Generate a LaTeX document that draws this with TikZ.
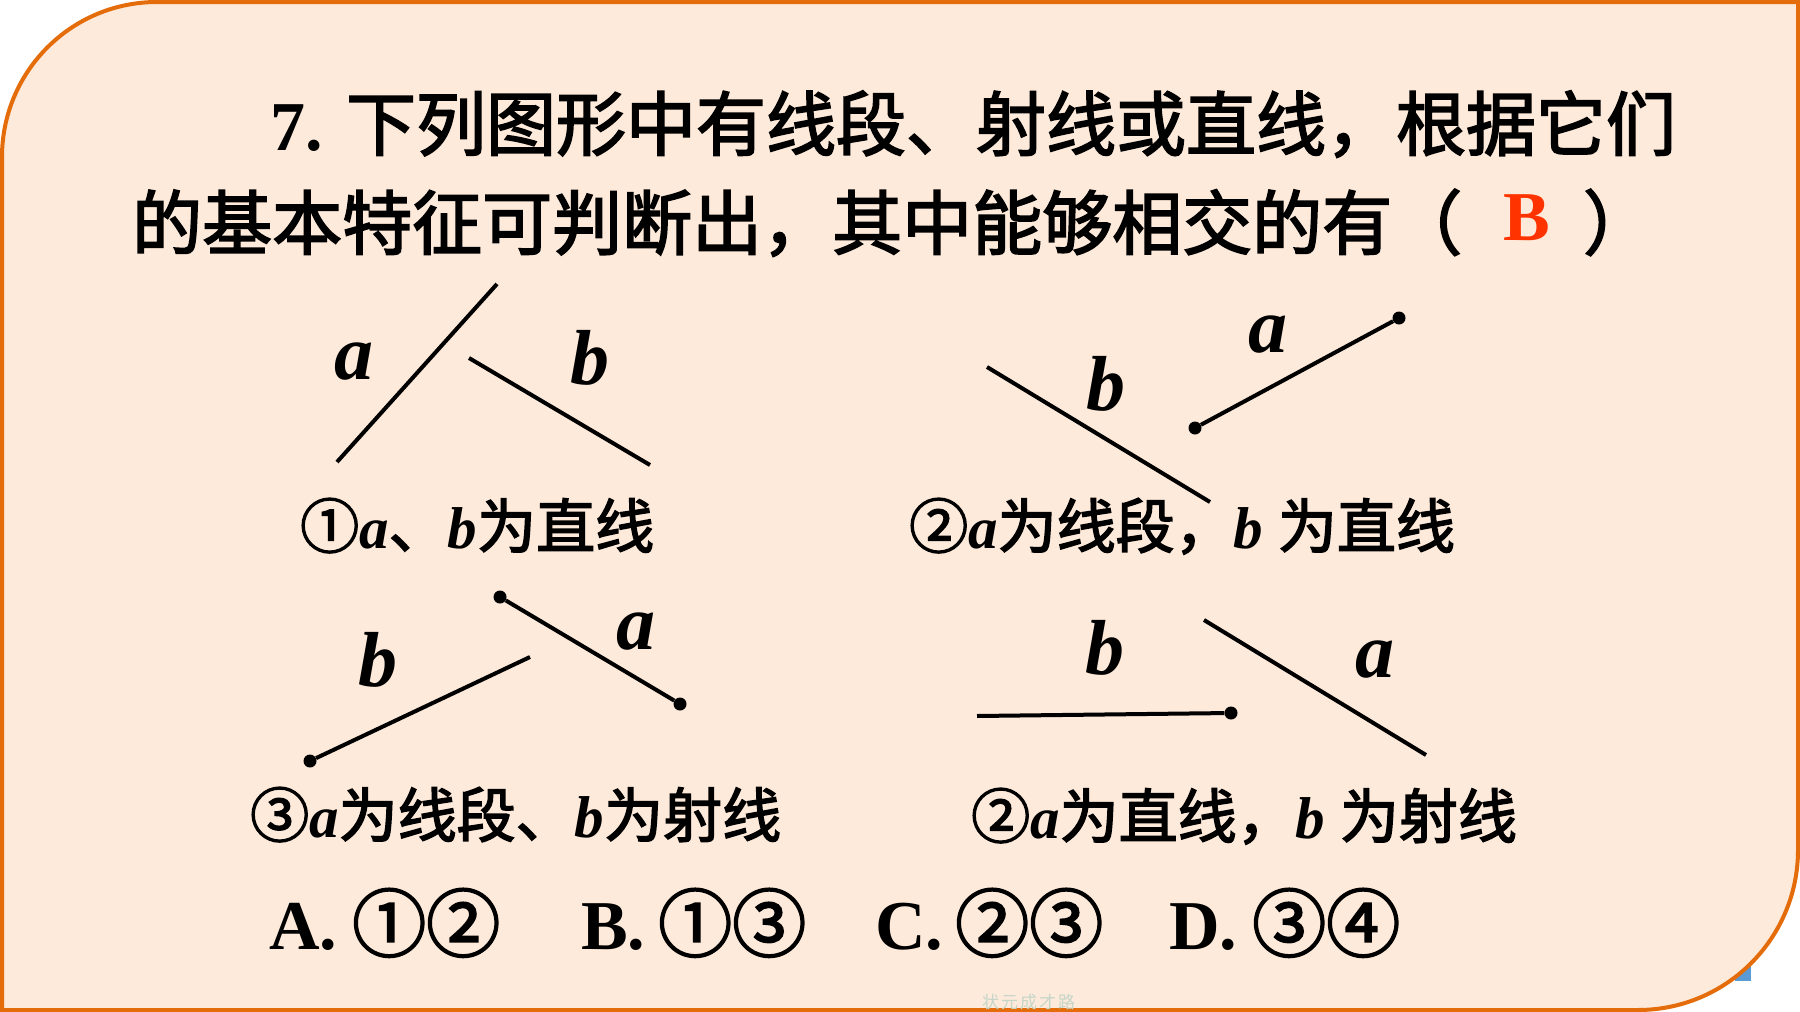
\documentclass[tikz,border=0pt]{standalone}
\usepackage{fontspec}
\setmainfont{Liberation Serif}
\newfontfamily\cjk{Noto Sans CJK SC}[BoldFont=Noto Sans CJK SC, BoldFeatures={FakeBold=2.5}]
\usetikzlibrary{positioning}
\definecolor{slidefill}{HTML}{FDEADA}
\definecolor{slideedge}{HTML}{E46C0A}
\definecolor{keyred}{HTML}{FF3300}
\definecolor{markblue}{HTML}{5B9BD5}
\definecolor{wmark}{HTML}{C5D6C8}

\begin{document}
\begin{tikzpicture}[
  x=1pt, y=-1pt,
  seg/.style={
    line width=4pt,
    black
  },
  endpt/.style={
    circle,
    fill=black,
    inner sep=0pt,
    minimum size=13pt
  },
  lbl/.style={
    inner sep=0pt,
    font=\fontsize{78}{90}\selectfont\bfseries\itshape
  },
  ttl/.style={
    anchor=base west,
    inner sep=0pt,
    font=\fontsize{70}{84}\selectfont\bfseries
  },
  capline/.style={
    anchor=base west,
    inner sep=0pt,
    font=\fontsize{59}{70}\selectfont\bfseries
  },
  circnum/.style={
    anchor=base west,
    inner sep=0pt,
    font=\fontsize{74}{84}\selectfont\bfseries
  }
]
\fill[white] (0,0) rectangle (1800,1012);
\useasboundingbox (0,0) rectangle (1800,1012);

% --- SLIDE FRAME ---
\fill[markblue] (1735,966) rectangle (1751,981);
\filldraw[fill=slidefill, draw=slideedge, line width=4pt]
  (2,1010) -- (2,157) arc[start angle=180, end angle=270, radius=155]
  -- (1798,2) -- (1798,850) arc[start angle=0, end angle=90, radius=160] -- cycle;
\node[anchor=base west, inner sep=0pt, text=wmark, font=\fontsize{17}{20}\selectfont] (wm) at (982,1008)
  {\cjk 状\hspace{2pt}元\hspace{2pt}成\hspace{2pt}才\hspace{2pt}路};

% --- QUESTION ---
\node[ttl] (q1) at (270,150) {7. {\cjk 下列图形中有线段、射线或直线，根据它们}};
\node[ttl] (q2) at (132,249) {\cjk 的基本特征可判断出，其中能够相交的有（};
\node[ttl, anchor=base, text=keyred] (key) at (1527,240) {B};
\node[ttl] (rp) at (1583,249) {\cjk ）};

% --- FIGURE 1 (top left) ---
\coordinate (a1s) at (497,284);
\coordinate (a1e) at (337,462);
\coordinate (b1s) at (469,358);
\coordinate (b1e) at (650,465);
\draw[seg] (a1s) -- (a1e);
\draw[seg] (b1s) -- (b1e);
\node[lbl] (la1) at (354,362) {a};
\node[lbl] (lb1) at (590,358) {b};
\node[capline] (cap1) at (300,548) {{\cjk ①}\textit{a}{\cjk 、}\textit{b}{\cjk 为直线}};

% --- FIGURE 2 (top right) ---
\coordinate (b2s) at (987,367);
\coordinate (b2e) at (1210,502);
\node[endpt] (a2s) at (1195,428) {};
\node[endpt] (a2e) at (1399,318) {};
\draw[seg] (b2s) -- (b2e);
\draw[seg] (a2s) -- (a2e);
\node[lbl] (lb2) at (1106,384) {b};
\node[lbl] (la2) at (1268,335) {a};
\node[capline] (cap2) at (909,548) {{\cjk ②}\textit{a}{\cjk 为线段，}\textit{b} {\cjk 为直线}};

% --- FIGURE 3 (bottom left) ---
\node[endpt] (a3s) at (500,597) {};
\node[endpt] (a3e) at (680,704) {};
\coordinate (b3s) at (530,657);
\node[endpt] (b3e) at (310,761) {};
\draw[seg] (a3s) -- (a3e);
\draw[seg] (b3s) -- (b3e);
\node[lbl] (lb3) at (378,660) {b};
\node[lbl] (la3) at (636,632) {a};
\node[capline] (cap3) at (250,837) {{\cjk ③}\textit{a}{\cjk 为线段、}\textit{b}{\cjk 为射线}};

% --- FIGURE 4 (bottom right) ---
\coordinate (b4s) at (977,716);
\node[endpt] (b4e) at (1231,713) {};
\coordinate (a4s) at (1204,620);
\coordinate (a4e) at (1426,755);
\draw[seg] (b4s) -- (b4e);
\draw[seg] (a4s) -- (a4e);
\node[lbl] (lb4) at (1105,648) {b};
\node[lbl] (la4) at (1375,660) {a};
\node[capline] (cap4) at (971,838) {{\cjk ②}\textit{a}{\cjk 为直线，}\textit{b} {\cjk 为射线}};

% --- CHOICES ---
\node[ttl] (optA) at (269,949) {A.};
\node[circnum] (setA) at (352,951) {\cjk ①②};
\node[ttl] (optB) at (581,949) {B.};
\node[circnum] (setB) at (658,951) {\cjk ①③};
\node[ttl] (optC) at (875,949) {C.};
\node[circnum] (setC) at (955,951) {\cjk ②③};
\node[ttl] (optD) at (1169,949) {D.};
\node[circnum] (setD) at (1252,951) {\cjk ③④};

\end{tikzpicture}
\end{document}
